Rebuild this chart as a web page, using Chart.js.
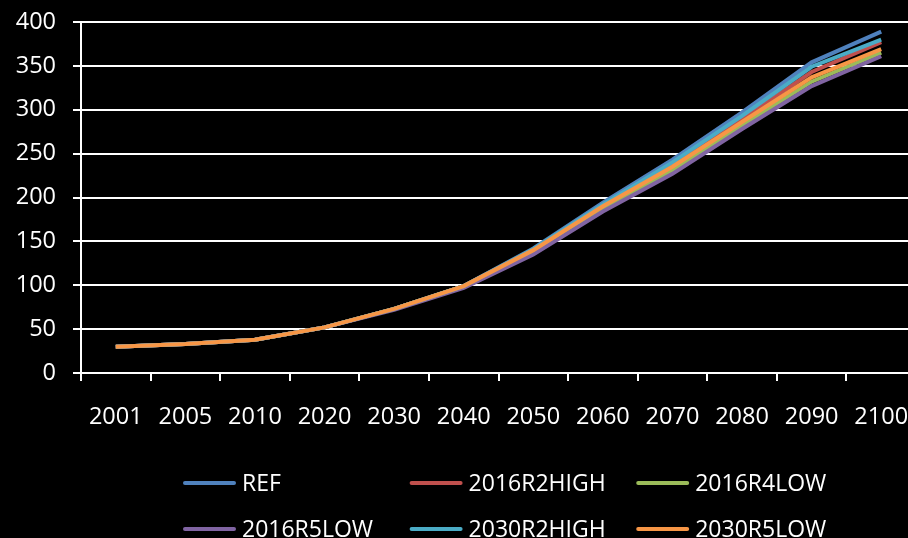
<!DOCTYPE html>
<html>
<head>
<meta charset="utf-8">
<script src="https://cdn.jsdelivr.net/npm/chart.js@4"></script>
<style>
  html, body { margin: 0; padding: 0; background: #000; overflow: hidden; }
  #wrap { width: 920px; height: 538px; }
</style>
</head>
<body>
<div id="wrap"><canvas id="chart" width="920" height="538"></canvas></div>
<script>
const YEARS = ["2001", "2005", "2010", "2020", "2030", "2040", "2050", "2060", "2070", "2080", "2090", "2100"];
const SERIES_NAMES = ["REF", "2016R2HIGH", "2016R4LOW", "2016R5LOW", "2030R2HIGH", "2030R5LOW"];
const SERIES_COLORS = ["#4f81bd", "#c0504d", "#9bbb59", "#8064a2", "#4bacc6", "#f79646"];

const REF        = [30, 33, 38, 52, 73, 99, 142, 194, 243, 297, 354, 389];
const R2HIGH_16  = [30, 33, 38, 52, 73, 99, 140, 190, 237, 289, 343, 377];
const R4LOW_16   = [30, 33, 38, 52, 73, 99, 138, 187, 231, 282, 332, 365];
const R5LOW_16   = [30, 33, 38, 52, 72, 97, 135, 184, 227, 278, 327, 361];
const R2HIGH_30  = [30, 33, 38, 52, 73, 99, 141, 192, 240, 293, 349, 380];
const R5LOW_30   = [30, 33, 38, 52, 73, 99, 140, 190, 235, 286, 337, 369];
const SERIES_VALUES = [REF, R2HIGH_16, R4LOW_16, R5LOW_16, R2HIGH_30, R5LOW_30];

const FONT = "'Open Sans', 'Liberation Sans', sans-serif";

// three-column legend under the axis, drawn by hand so the columns line up
const gridLegend = {
  id: "gridLegend",
  afterDraw(chart) {
    const { ctx } = chart;
    ctx.save();
    ctx.font = `23px ${FONT}`;
    ctx.textBaseline = "middle";
    ctx.textAlign = "left";
    ctx.lineCap = "round";
    chart.data.datasets.forEach((ds, i) => {
      const x = 183 + (i % 3) * 226.6;
      const y = 483 + Math.floor(i / 3) * 46;
      ctx.strokeStyle = ds.borderColor;
      ctx.lineWidth = 4;
      ctx.beginPath();
      ctx.moveTo(x + 2, y);
      ctx.lineTo(x + 51, y);
      ctx.stroke();
      ctx.fillStyle = "#fff";
      ctx.fillText(ds.label, x + 59, y + 1);
    });
    ctx.restore();
  },
};

new Chart(document.getElementById("chart"), {
  type: "line",
  data: {
    labels: YEARS,
    datasets: SERIES_NAMES.map((name, i) => ({
      label: name,
      data: SERIES_VALUES[i],
      borderColor: SERIES_COLORS[i],
      backgroundColor: SERIES_COLORS[i],
      borderWidth: 4,
      pointRadius: 0,
      tension: 0,
      order: SERIES_NAMES.length - i,
    })),
  },
  options: {
    responsive: false,
    animation: false,
    layout: { padding: { top: 22, left: 0, right: 4, bottom: 0 } },
    plugins: { legend: { display: false }, tooltip: { enabled: false } },
    scales: {
      x: {
        offset: true,
        grid: { offset: true, drawOnChartArea: false, color: "#fff", lineWidth: 2, tickLength: 8 },
        border: { color: "#fff", width: 2 },
        ticks: { color: "#fff", font: { family: FONT, size: 23.5 }, padding: 22, maxRotation: 0, autoSkip: false },
        afterFit(scale) {
          scale.height = 165;
          scale.paddingLeft = 0;
          scale.paddingRight = 0;
        },
      },
      y: {
        min: 0,
        max: 400,
        grid: { color: "#fff", lineWidth: 2, tickLength: 8 },
        border: { color: "#fff", width: 2 },
        ticks: { stepSize: 50, color: "#fff", font: { family: FONT, size: 23.5 }, padding: 17 },
        afterFit(scale) {
          scale.width = 81;
          scale.paddingTop = 0;
          scale.paddingBottom = 0;
        },
      },
    },
  },
  plugins: [gridLegend],
});
</script>
</body>
</html>
